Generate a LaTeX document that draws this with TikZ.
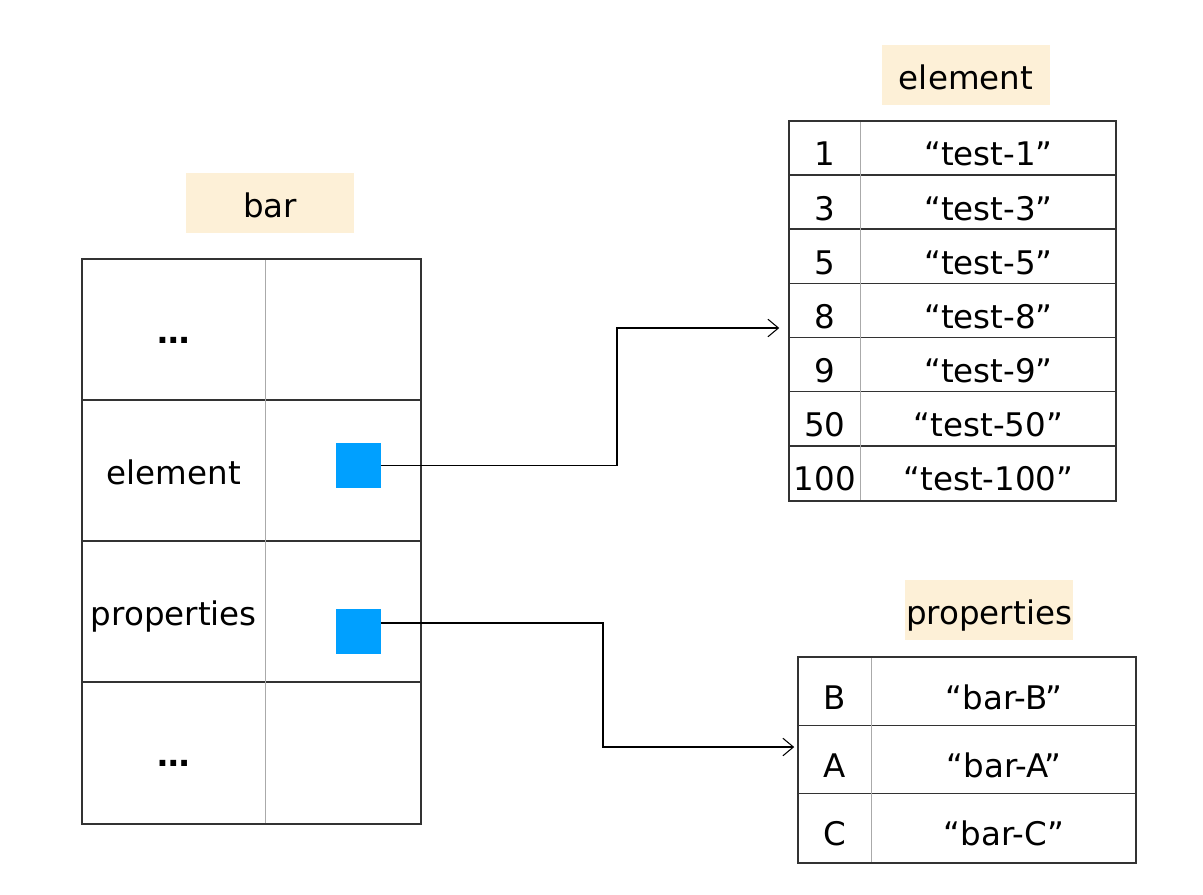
\documentclass[tikz,border=0pt]{standalone}
\usepackage{fontspec}
\setmainfont{DejaVu Sans}
\usepackage{tikz}
\usetikzlibrary{arrows.meta}
\definecolor{labelbg}{HTML}{FDF0D7}
\definecolor{ptrblue}{HTML}{00A0FF}
\definecolor{rulegray}{HTML}{AAAAAA}
\definecolor{framegray}{HTML}{333333}

\begin{document}
\begin{tikzpicture}[x=0.02cm,y=-0.02cm,>={Straight Barb[length=6pt,width=10pt,line width=0.6pt]},
  font=\fontsize{18.5}{22}\selectfont,
  title/.style={fill=labelbg,minimum width=3.36cm,minimum height=1.2cm,inner sep=0pt,text height=17pt,text depth=1pt},
  cell/.style={anchor=north west,inner sep=0pt,text height=18pt,text depth=2pt},
  mapcell/.style={cell,text height=21pt,text depth=1pt},
  frame/.style={draw=framegray,line width=1.1pt},
  rowrule/.style={draw=framegray,line width=0.9pt},
  colrule/.style={draw=rulegray,line width=0.6pt},
  ptr/.style={fill=ptrblue,minimum size=0.9cm,inner sep=0pt},
  link/.style={->,line width=1.1pt,shorten >=1pt}]
  \useasboundingbox (0,0) rectangle (1203,895);

  % struct bar
  \node[title] (bartitle) at (270,203) {bar};
  \foreach \k [count=\i] in {\textbf{…},element,properties,\textbf{…}} {
    \node[cell,minimum width=3.66cm,minimum height=2.82cm] (bk\i) at (82,{259+141*(\i-1)}) {\k};
    \node[cell,minimum width=3.1cm,minimum height=2.82cm] (bv\i) at (bk\i.north east) {};
  }
  \foreach \i in {2,3,4} \draw[rowrule] (bk\i.north west) -- (bv\i.north east);
  \draw[colrule] (bk1.north east) -- (bk4.south east);
  \draw[frame] (bk1.north west) rectangle (bv4.south east);
  \node[ptr] (sq2) at (358.5,465.5) {};
  \node[ptr] (sq3) at (358.5,631) {};

  % element map
  \node[title] (eltitle) at (966,75) {element};
  \foreach \k [count=\i] in {1,3,5,8,9,50,100} {
    \node[mapcell,minimum width=1.42cm,minimum height=1.083cm] (ek\i) at (789,{121+54.14*(\i-1)}) {\k};
    \node[mapcell,minimum width=5.1cm,minimum height=1.083cm] (ev\i) at (ek\i.north east) {“test-\k”};
  }
  \foreach \i in {2,...,7} \draw[rowrule] (ek\i.north west) -- (ev\i.north east);
  \draw[colrule] (ek1.north east) -- (ek7.south east);
  \draw[frame] (ek1.north west) rectangle (ev7.south east);

  % properties map
  \node[title] (proptitle) at (989,610) {properties};
  \foreach \k [count=\i] in {B,A,C} {
    \node[mapcell,minimum width=1.46cm,minimum height=1.367cm] (pk\i) at (798,{657+68.33*(\i-1)}) {\k};
    \node[mapcell,minimum width=5.28cm,minimum height=1.367cm] (pv\i) at (pk\i.north east) {“bar-\k”};
  }
  \foreach \i in {2,3} \draw[rowrule] (pk\i.north west) -- (pv\i.north east);
  \draw[colrule] (pk1.north east) -- (pk3.south east);
  \draw[frame] (pk1.north west) rectangle (pv3.south east);

  % pointers
  \coordinate (tip1) at (781,328);
  \coordinate (tip2) at (796,747);
  \draw[link] (sq2.east) -- ++(236,0) |- (tip1);
  \draw[link] ([yshift=0.16cm]sq3.east) -- ++(222,0) |- (tip2);
\end{tikzpicture}
\end{document}
